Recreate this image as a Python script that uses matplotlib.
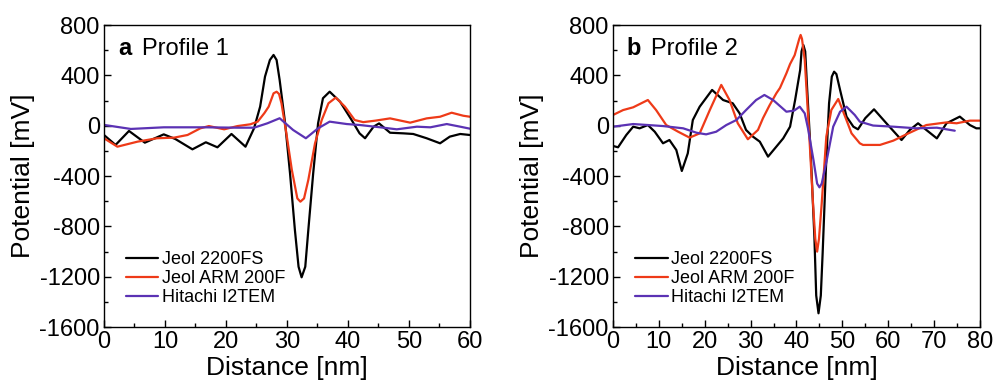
import matplotlib.pyplot as plt
from matplotlib.ticker import MultipleLocator

plt.rcParams["font.family"] = ["Liberation Sans", "DejaVu Sans"]
plt.rcParams["axes.unicode_minus"] = False

# Perfil 1 (painel a): valores
a_jeol2200_x = [0, 1.9, 4.1, 6.7, 9.8, 11.7, 14.5, 16.7, 18.6, 20.9, 23.2, 24.6, 25.6, 26.4,
                27.2, 27.8, 28.3, 28.8, 29.7, 30.5, 31.3, 31.9, 32.4, 33.0, 33.5, 34.3,
                35.1, 35.9, 37.0, 38.7, 40.6, 41.9, 42.8, 44.2, 45.1, 46.9, 49.1, 50.7,
                52.9, 55.1, 56.7, 58.4, 60]
a_jeol2200_y = [-74, -153, -42, -135, -69, -106, -188, -132, -172, -66, -167, -21, 151, 390,
                522, 562, 522, 363, 19, -378, -829, -1121, -1205, -1121, -829, -378,
                19, 218, 270, 191, 45, -61, -100, -8, 18, -56, -61, -66,
                -100, -140, -87, -66, -74]
a_arm200_x = [0, 2.2, 5.5, 8.7, 11.5, 13.7, 15.8, 17.2, 19.7, 21.9, 24.0, 25.2, 26.3, 27.0,
              27.8, 28.3, 28.7, 29.1, 29.9, 30.8, 31.7, 32.2, 32.8, 33.5, 34.6, 35.7,
              36.8, 38.0, 39.5, 41.1, 42.5, 44.5, 46.9, 50.2, 52.9, 55.1, 57.0, 58.9, 60]
a_arm200_y = [-100, -167, -127, -100, -95, -74, -21, -3, -29, -3, 11, 32, 100, 151,
              257, 270, 252, 178, -61, -352, -578, -604, -578, -431, -140, 45,
              178, 223, 151, 45, 28, 40, 58, 24, 58, 71, 103, 79, 71]
a_i2tem_x = [0, 4.4, 9.8, 16.4, 21.9, 24.6, 26.8, 28.8, 31.0, 33.1, 35.1, 37.0, 39.8, 42.0,
             45.3, 48.0, 51.3, 53.5, 56.2, 58.4, 60]
a_i2tem_y = [6, -26, -13, -13, -16, -16, 19, 59, -34, -100, -21, 32, 13, 5,
             -13, -29, -8, -13, 13, -8, -24]

# Perfil 2 (painel b)
b_jeol2200_x = [0, 1.1, 2.9, 4.4, 5.8, 7.6, 9.1, 10.9, 12.3, 13.8, 15.0, 16.3, 17.4, 18.9,
                21.6, 24.0, 26.1, 27.6, 29.0, 30.5, 32.0, 33.8, 35.6, 37.1, 38.6, 39.7,
                40.8, 41.1, 41.5, 41.9, 42.3, 43.1, 43.9, 44.3, 44.8, 45.3, 45.7, 46.4,
                47.1, 47.7, 48.2, 48.7, 49.5, 50.9, 52.4, 53.4, 55.0, 56.9, 59.6, 62.9,
                64.7, 66.5, 68.3, 70.6, 72.7, 75.6, 77.8, 79.2, 80]
b_jeol2200_y = [-161, -172, -74, -8, -21, 5, -48, -140, -114, -193, -360, -220, 45, 151,
                284, 204, 178, 98, -34, -87, -127, -246, -167, -101, -8, 204,
                443, 590, 641, 590, 310, -220, -882, -1350, -1491, -1350, -1014, -352,
                178, 390, 429, 410, 284, 72, -8, -29, 60, 130, 19, -114,
                -34, 19, -34, -101, 19, 72, 5, -21, -21]
b_arm200_x = [0, 2.2, 4.4, 7.6, 9.4, 11.6, 14.2, 16.7, 18.9, 21.1, 23.6, 25.4, 27.2, 29.4,
              31.6, 32.7, 34.1, 35.6, 36.4, 37.8, 38.6, 39.6, 40.6, 40.9, 41.2, 41.8,
              42.8, 43.6, 44.1, 44.5, 44.9, 45.5, 46.5, 47.6, 49.1, 50.6, 52.0, 53.8,
              54.5, 58.2, 61.1, 64.4, 68.3, 72.7, 74.9, 77.8, 80]
b_arm200_y = [85, 124, 146, 204, 124, 5, -48, -95, -61, 124, 324, 204, 19, -108,
              -34, 60, 160, 257, 300, 416, 490, 560, 690, 721, 690, 522,
              -87, -617, -900, -1001, -900, -617, -87, 125, 212, 72, -61, -140,
              -153, -153, -119, -61, 5, 26, 19, 40, 40]
b_i2tem_x = [0, 4.4, 10.9, 15.3, 18.2, 20.3, 22.5, 24.7, 26.9, 29.0, 31.2, 33.0, 34.9, 37.8,
             39.5, 40.7, 41.8, 42.5, 43.7, 44.5, 45.0, 45.5, 46.6, 48.0, 49.5, 50.9,
             52.7, 53.8, 56.7, 61.1, 66.2, 70.6, 74.5]
b_i2tem_y = [-8, 13, -3, -21, -56, -69, -48, 5, 45, 124, 204, 244, 204, 111,
             120, 151, 98, -20, -273, -460, -490, -460, -273, -8, 111, 151,
             85, 32, 1, -8, -21, -16, -40]

legend_labels = ["Jeol 2200FS", "Jeol ARM 200F", "Hitachi I2TEM"]
colors = ["black", "#EE3A18", "#5B32B4"]

fig = plt.figure(figsize=(9.94, 3.92), dpi=100)
ax_a = fig.add_axes([0.1046, 0.1658, 0.3682, 0.7704])
ax_b = fig.add_axes([0.6167, 0.1658, 0.3692, 0.7704])

panels = [
    (ax_a, "a", "Profile 1", 60,
     [(a_jeol2200_x, a_jeol2200_y), (a_arm200_x, a_arm200_y), (a_i2tem_x, a_i2tem_y)]),
    (ax_b, "b", "Profile 2", 80,
     [(b_jeol2200_x, b_jeol2200_y), (b_arm200_x, b_arm200_y), (b_i2tem_x, b_i2tem_y)]),
]

for ax, letter, title, xmax, series in panels:
    for (xs, ys), lab, col in zip(series, legend_labels, colors):
        ax.plot(xs, ys, color=col, lw=1.6, label=lab,
                solid_joinstyle="round", solid_capstyle="round")
    ax.set_xlim(0, xmax)
    ax.set_ylim(-1600, 800)
    ax.xaxis.set_major_locator(MultipleLocator(10))
    ax.xaxis.set_minor_locator(MultipleLocator(5))
    ax.yaxis.set_major_locator(MultipleLocator(400))
    ax.yaxis.set_minor_locator(MultipleLocator(200))
    ax.tick_params(which="both", direction="in", top=False, right=False,
                   labelsize=17, width=1.0, pad=3)
    ax.tick_params(which="major", length=5)
    ax.tick_params(which="minor", length=3)
    for sp in ax.spines.values():
        sp.set_linewidth(1.0)
    ax.set_xlabel("Distance [nm]", fontsize=19, labelpad=2)
    ax.set_ylabel("Potential [mV]", fontsize=19, labelpad=3)
    ax.text(0.038, 0.90, letter, transform=ax.transAxes, fontsize=17,
            fontweight="bold", va="baseline")
    ax.text(0.103, 0.90, title, transform=ax.transAxes, fontsize=17, va="baseline")
    ax.legend(loc="lower left", bbox_to_anchor=(0.06, 0.07), frameon=False,
              fontsize=13, handlelength=1.8, handletextpad=0.2, labelspacing=0.1,
              borderpad=0, borderaxespad=0)

fig.savefig("out.png", dpi=100)
